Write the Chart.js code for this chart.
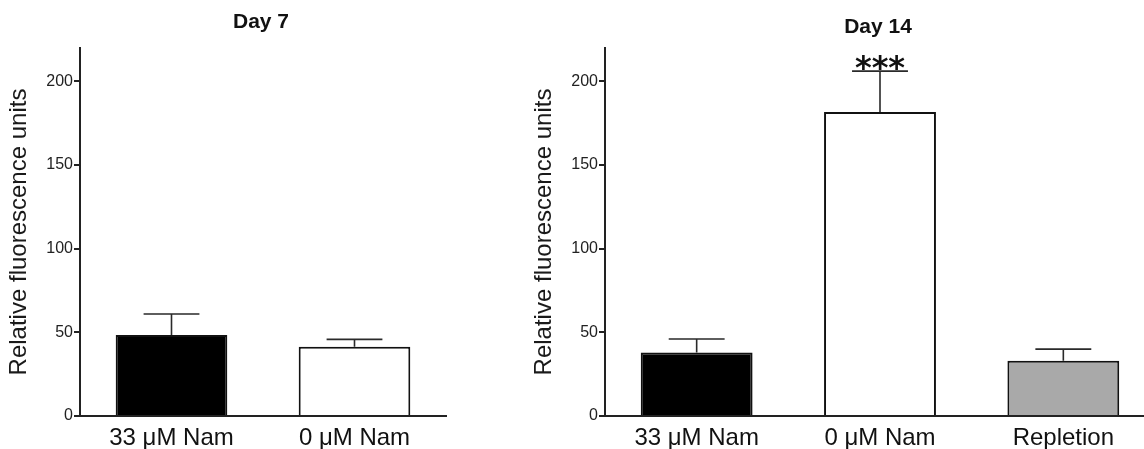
<!DOCTYPE html>
<html><head><meta charset="utf-8">
<script src="https://cdn.jsdelivr.net/npm/chart.js@4.4.1/dist/chart.umd.min.js"></script>
<style>
html,body{margin:0;padding:0;background:#fff;overflow:hidden;width:1144px;height:449px;position:relative;}
#c7{position:absolute;left:0;top:0;}
#c14{position:absolute;left:525px;top:0;}
</style></head><body>
<canvas id="c7" width="460" height="449"></canvas>
<canvas id="c14" width="650" height="449"></canvas>
<script>
// ---- data ----
const categories7 = ['33 μM Nam', '0 μM Nam'];
const means7 = [48.4, 41.4];
const sem7 = [12.6, 4.4];
const colors7 = ['#000000', '#ffffff'];

const categories14 = ['33 μM Nam', '0 μM Nam', 'Repletion'];
const means14 = [37.9, 181.8, 33.1];
const sem14 = [8.1, 24.4, 6.9];
const sig14 = ['', '***', ''];
const colors14 = ['#000000', '#ffffff', '#a9a9a9'];

const yTicks = [0, 50, 100, 150, 200];
const yMax = 220;
const yTitle = 'Relative fluorescence units';

// ---- plugins ----
const panelTitle = {
  id: 'panelTitle',
  afterDraw(chart, args, opts) {
    const {ctx, chartArea} = chart;
    ctx.save();
    ctx.font = 'bold 21px "Liberation Sans", Arial, sans-serif';
    ctx.fillStyle = '#111';
    ctx.textAlign = 'center';
    ctx.textBaseline = 'alphabetic';
    ctx.fillText(opts.text, (chartArea.left + chartArea.right) / 2 + (opts.dx || 0), opts.y);
    ctx.restore();
  }
};

const errorBars = {
  id: 'errorBars',
  afterDatasetsDraw(chart, args, opts) {
    const {ctx} = chart;
    const ys = chart.scales.y;
    const meta = chart.getDatasetMeta(0);
    ctx.save();
    ctx.strokeStyle = '#2a2a2a';
    ctx.lineWidth = 1.6;
    meta.data.forEach((bar, i) => {
      const top = ys.getPixelForValue(opts.values[i] + opts.errors[i]);
      const half = bar.width / 4;
      ctx.beginPath();
      ctx.moveTo(bar.x, bar.y);
      ctx.lineTo(bar.x, top);
      ctx.moveTo(bar.x - half, top);
      ctx.lineTo(bar.x + half, top);
      ctx.stroke();
      if (opts.marks && opts.marks[i]) {
        ctx.fillStyle = '#111';
        ctx.font = 'bold 32px "DejaVu Sans", sans-serif';
        ctx.textAlign = 'center';
        ctx.textBaseline = 'alphabetic';
        ctx.fillText(opts.marks[i], bar.x, top + 7);
      }
    });
    ctx.restore();
  }
};

function makeChart(id, labels, values, errors, colors, marks, titleText, titleY, padRight) {
  return new Chart(document.getElementById(id), {
    type: 'bar',
    data: {
      labels: labels,
      datasets: [{
        data: values,
        backgroundColor: colors,
        borderColor: '#111',
        borderWidth: 2,
        borderSkipped: 'bottom',
        categoryPercentage: 1.0,
        barPercentage: 0.61
      }]
    },
    options: {
      responsive: false,
      animation: false,
      layout: { padding: { top: 48, right: padRight, bottom: 0, left: 0 } },
      plugins: {
        legend: { display: false },
        tooltip: { enabled: false },
        title: { display: false },
        panelTitle: { text: titleText, y: titleY, dx: -2 },
        errorBars: { values: values, errors: errors, marks: marks }
      },
      scales: {
        x: {
          grid: { display: false },
          border: { display: true, color: '#222', width: 2 },
          ticks: {
            color: '#111',
            padding: 0,
            font: { family: '"Liberation Sans", Arial, sans-serif', size: 24 }
          },
          afterFit: s => { s.height = 33; }
        },
        y: {
          min: 0,
          max: yMax,
          afterBuildTicks: s => { s.ticks = yTicks.map(v => ({ value: v })); },
          grid: { display: true, drawOnChartArea: false, drawTicks: true, tickLength: 6, color: '#222', lineWidth: 2 },
          border: { display: true, color: '#222', width: 2 },
          ticks: {
            color: '#222',
            padding: 1,
            font: { family: '"Liberation Sans", Arial, sans-serif', size: 16 }
          },
          title: {
            display: true,
            text: yTitle,
            color: '#1a1a1a',
            padding: { top: 5, bottom: 0 },
            font: { family: '"Liberation Sans", Arial, sans-serif', size: 24 }
          },
          afterFit: s => { s.width = 80; }
        }
      }
    },
    plugins: [panelTitle, errorBars]
  });
}

makeChart('c7', categories7, means7, sem7, colors7, null, 'Day 7', 28, 14);
makeChart('c14', categories14, means14, sem14, colors14, sig14, 'Day 14', 33, 20);
</script>
</body></html>
